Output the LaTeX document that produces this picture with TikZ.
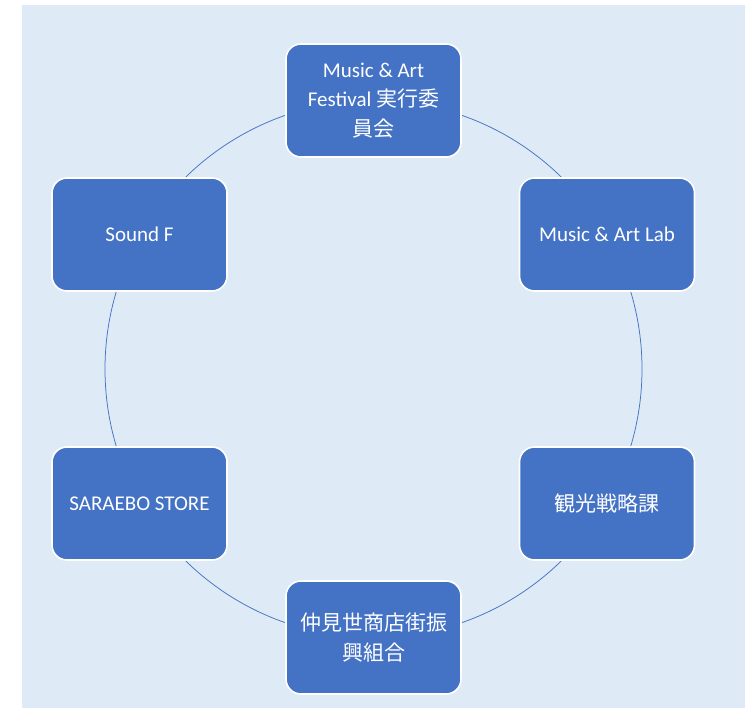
\documentclass[tikz,border=0pt]{standalone}
\usepackage{fontspec}
\setmainfont{Carlito}
\newfontfamily\cjk{Noto Sans CJK JP}[Scale=1.0]
\definecolor{accent}{HTML}{4472C4}
\definecolor{bgblue}{HTML}{DEEAF6}
\begin{document}
\begin{tikzpicture}[x=1pt,y=-1pt,
  box/.style={draw=white, line width=1.6pt, fill=accent, rounded corners=15pt,
    minimum width=175pt, minimum height=113pt, text=white, inner sep=0pt,
    font=\fontsize{21}{29.5}\selectfont, align=center},
  ring/.style={draw=accent, line width=0.75pt}]
\fill[white] (0,0) rectangle (751,711);
\useasboundingbox (0,0) rectangle (751,711);
\fill[bgblue] (22,5) rectangle (745,708);
\coordinate (ctr) at (373.5,369);
\draw[ring] (ctr) circle[radius=268.5pt];
\node[box] (fest) at (373.5,100.5) {Music \& Art\\Festival {\cjk 実行委}\\{\cjk 員会}};
\node[box] (lab) at (607,234.5) {Music \& Art Lab};
\node[box] (kanko) at (607,503.5) {\cjk 観光戦略課};
\node[box] (naka) at (373.5,637.5) {\cjk 仲見世商店街振\\\cjk 興組合};
\node[box] (store) at (139.5,503.5) {SARAEBO STORE};
\node[box] (sound) at (139.5,234.5) {Sound F};
\end{tikzpicture}
\end{document}
